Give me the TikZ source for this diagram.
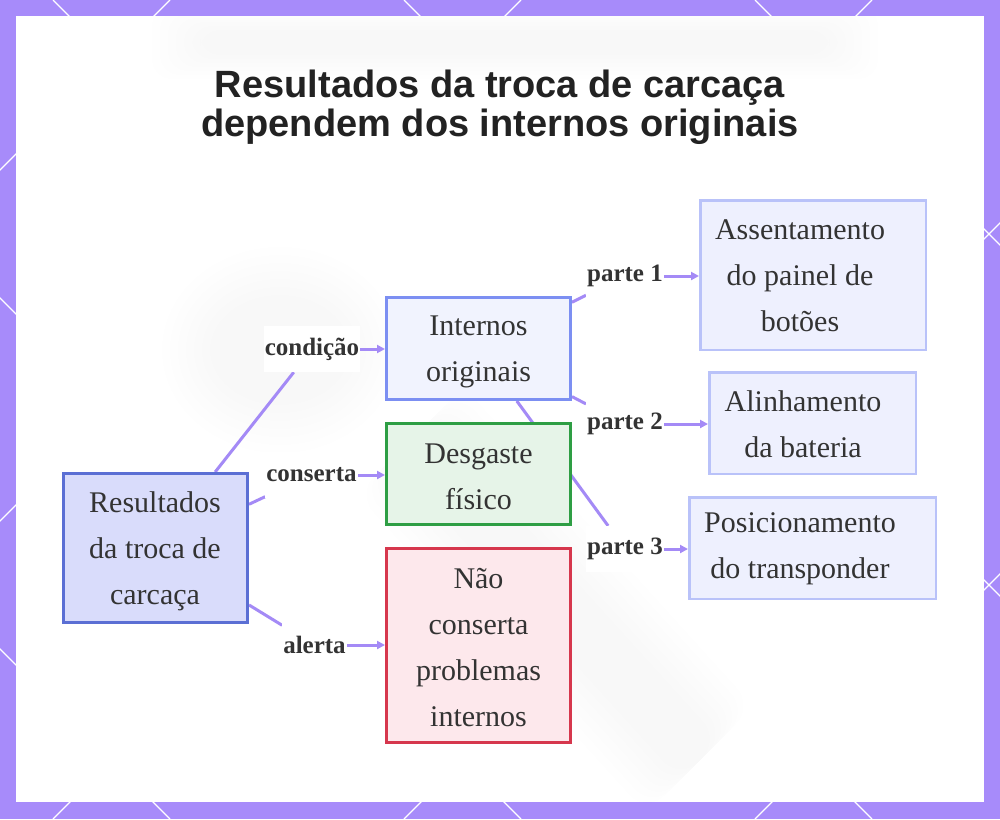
\documentclass[tikz,border=0pt]{standalone}
\usepackage{fontspec}
\setmainfont{Liberation Serif}
\newfontfamily\titlefont{Liberation Sans}
\usetikzlibrary{arrows.meta}
\pgfdeclarelayer{back}
\pgfdeclarelayer{bg}
\pgfsetlayers{back,bg,main}
\definecolor{framec}{HTML}{A78BFA}
\definecolor{edgec}{HTML}{A48AF6}
\definecolor{txt}{HTML}{333333}
\definecolor{ttl}{HTML}{222222}
\definecolor{rootf}{HTML}{D9DCFB}
\definecolor{rootd}{HTML}{5B6FD4}
\definecolor{intf}{HTML}{F1F3FE}
\definecolor{intd}{HTML}{7C8FF2}
\definecolor{desf}{HTML}{E6F4E8}
\definecolor{desd}{HTML}{2E9E44}
\definecolor{naof}{HTML}{FDE8EC}
\definecolor{naod}{HTML}{D6374D}
\definecolor{rf}{HTML}{EEF0FE}
\definecolor{rd}{HTML}{B9C2F9}
\tikzset{
  box/.style={draw, line width=3pt, inner sep=0pt},
  rbox/.style={draw=rd, fill=rf, line width=2.5pt, inner sep=0pt},
  btext/.style={align=center, inner sep=0pt, text=txt, font=\fontsize{30}{46}\selectfont},
  lbl/.style={fill=white, font=\fontsize{25}{30}\selectfont\bfseries, text=txt,
    inner xsep=1pt, inner ysep=0pt, minimum height=46pt},
  edge/.style={draw=edgec, line width=3pt},
  arr/.style={edge, -{Triangle[length=8pt,width=8pt]}},
  ttlnode/.style={font=\titlefont\bfseries\fontsize{38}{37}\selectfont, text=ttl, inner sep=0pt, anchor=base},
  haze/.style={black, opacity=0.0045}
}
\begin{document}
\begin{tikzpicture}[x=1pt,y=-1pt]
\useasboundingbox (0,0) rectangle (1000,819);
\begin{pgfonlayer}{back}
  \fill[framec] (0,0) rectangle (1000,819);
  \begin{scope}
    \clip (0,0) rectangle (1000,819);
    \foreach \c in {-1000,-649,-298,53,404,755}
      \draw[white, line width=1.2pt] (\c,0) -- ++(819,819);
    \foreach \c in {170,521,872,1223,1574}
      \draw[white, line width=1.2pt] (\c,0) -- ++(-819,819);
  \end{scope}
  \fill[white] (16,16) rectangle (984,802);
  % faint blurred watermark
  \begin{scope}
    \clip (16,16) rectangle (984,802);
    \foreach \r in {0,8,...,48} {
      \fill[haze] (280,350) ellipse [x radius=70+\r, y radius=55+\r];
      \fill[haze, rounded corners=25] (430+0.7*\r,420-0.7*\r) -- (720+0.7*\r,740-0.7*\r) -- (680-0.7*\r,780+0.7*\r) -- (390-0.7*\r,460+0.7*\r) -- cycle;
      \fill[haze, rounded corners=20] (200-\r,30-0.5*\r) rectangle (830+\r,55+0.5*\r);
    }
  \end{scope}
\end{pgfonlayer}

\node[ttlnode] (t1) at (500,97) {Resultados da troca de carcaça};
\node[ttlnode] (t2) at (500,136) {dependem dos internos originais};

\node[box, draw=rootd, fill=rootf, minimum width=184pt, minimum height=149pt] (root) at (155.5,548) {};
\node[btext] (rt) at (155,551) {Resultados\\da troca de\\carcaça};
\node[box, draw=intd, fill=intf, minimum width=184pt, minimum height=102pt] (int) at (478.5,348.5) {};
\node[btext] (it) at (478.5,352) {Internos\\originais};
\node[box, draw=desd, fill=desf, minimum width=184pt, minimum height=101pt] (des) at (478.5,474) {};
\node[btext] (dt) at (478.5,477) {Desgaste\\físico};
\node[box, draw=naod, fill=naof, minimum width=184pt, minimum height=194pt] (nao) at (478.5,645.5) {};
\node[btext] (nt) at (478.5,648) {Não\\conserta\\problemas\\internos};

\node[rbox, minimum width=225.5pt, minimum height=149.5pt] (b1) at (813,275) {};
\node[btext] (tx1) at (800,276) {Assentamento\\do painel de\\botões};
\node[rbox, minimum width=206.5pt, minimum height=101.5pt] (b2) at (812.5,423) {};
\node[btext] (tx2) at (803,424) {Alinhamento\\da bateria};
\node[rbox, minimum width=246.5pt, minimum height=101.5pt] (b3) at (812.5,548) {};
\node[btext] (tx3) at (800,549) {Posicionamento\\do transponder};

\node[lbl] (l1) at (312,349) {condição};
\node[lbl] (l2) at (311.5,475) {conserta};
\node[lbl] (l3) at (314.5,645) {alerta};
\node[lbl] (p1) at (625,276) {parte 1};
\node[lbl] (p2) at (625,424) {parte 2};
\node[lbl] (p3) at (625,549) {parte 3};

\begin{pgfonlayer}{bg}
  \draw[edge] (root) -- (l1);
  \draw[arr] (l1.east) -- (l1.east -| int.west);
  \draw[edge] (root) -- (l2);
  \draw[arr] (l2.east) -- (l2.east -| des.west);
  \draw[edge] (root) -- (l3);
  \draw[arr] (l3.east) -- (l3.east -| nao.west);
  \draw[edge] (int) -- (p1);
  \draw[arr] (p1.east) -- (p1.east -| b1.west);
  \draw[edge] (int) -- (p2);
  \draw[arr] (p2.east) -- (p2.east -| b2.west);
  \draw[edge] (int) -- (p3);
  \draw[arr] (p3.east) -- (p3.east -| b3.west);
\end{pgfonlayer}
\end{tikzpicture}
\end{document}
